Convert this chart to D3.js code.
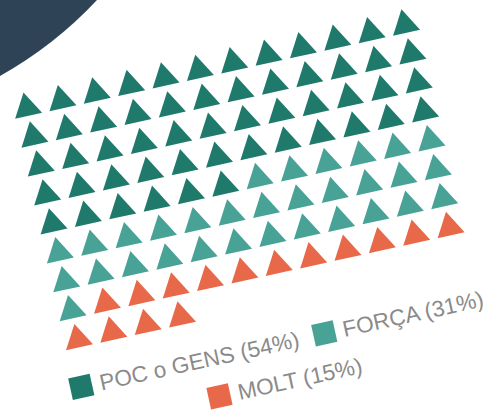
<!DOCTYPE html>
<html>
<head>
<meta charset="utf-8">
<script src="https://cdn.jsdelivr.net/npm/d3@7"></script>
<style>
  html, body { margin: 0; padding: 0; background: #fff; }
  svg { display: block; }
  .legend text { font-family: "Liberation Sans", Arial, sans-serif; font-size: 22.5px; fill: #8a8a8a; }
</style>
</head>
<body>
<svg id="chart" width="496" height="414"></svg>
<script>
// data
const categories = ['POC o GENS', 'FORÇA', 'MOLT'];
const percents   = [54, 31, 15];
const colors     = ['#1f7a6c', '#48a396', '#e8694a'];
const nCols = 12;

const svg = d3.select('#chart');
const W = +svg.attr('width'), H = +svg.attr('height');

// dark corner in the background
svg.append('path')
  .attr('d', 'M0,0 L97,0 Q55,45 0,76 Z')
  .attr('fill', '#2f4356');

// one unit per percent, filled row by row
const units = [];
categories.forEach((c, i) => {
  for (let k = 0; k < percents[i]; k++) units.push({ cat: c, i });
});
units.forEach((d, k) => { d.col = k % nCols; d.row = Math.floor(k / nCols); });
const nRows = Math.ceil(units.length / nCols);

const x = d3.scalePoint().domain(d3.range(nCols)).range([0, 387]);
const y = d3.scalePoint().domain(d3.range(nRows)).range([0, 237]);
const color = d3.scaleOrdinal().domain(categories).range(colors);

// whole chart is tilted
const g = svg.append('g')
  .attr('transform', 'translate(26.9,108) rotate(-12.4)');

const tri = d3.symbol().type(d3.symbolTriangle).size(330);
g.selectAll('.unit')
  .data(units)
  .join('path')
    .attr('class', 'unit')
    .attr('transform', d => `translate(${x(d.col)},${y(d.row)})`)
    .attr('d', tri)
    .attr('fill', d => color(d.cat));

// legend, centred under the grid, wrapping into rows
const legend = g.append('g').attr('class', 'legend');
const box = 22, gapText = 8, gapItem = 15, maxW = 440, rowH = 39;
const centre = 193.5, legendY = 284;

const items = legend.selectAll('.item')
  .data(categories)
  .join('g')
    .attr('class', 'item');
items.append('rect')
  .attr('x', 0).attr('y', -box / 2)
  .attr('width', box).attr('height', box)
  .attr('fill', d => color(d));
items.append('text')
  .attr('x', box + gapText)
  .attr('dy', '0.35em')
  .text((d, i) => `${d} (${percents[i]}%)`);

// measure & lay out rows
const widths = [];
items.each(function() {
  widths.push(box + gapText + this.querySelector('text').getComputedTextLength());
});
const rows = [[]];
let cur = 0;
widths.forEach((w, i) => {
  const add = rows[rows.length - 1].length ? gapItem + w : w;
  if (cur + add > maxW && rows[rows.length - 1].length) {
    rows.push([i]); cur = w;
  } else {
    rows[rows.length - 1].push(i); cur += add;
  }
});
rows.forEach((r, ri) => {
  const total = d3.sum(r, i => widths[i]) + gapItem * (r.length - 1);
  let xx = centre - total / 2;
  r.forEach(i => {
    items.filter((d, j) => j === i)
      .attr('transform', `translate(${xx},${legendY + ri * rowH})`);
    xx += widths[i] + gapItem;
  });
});
</script>
</body>
</html>
